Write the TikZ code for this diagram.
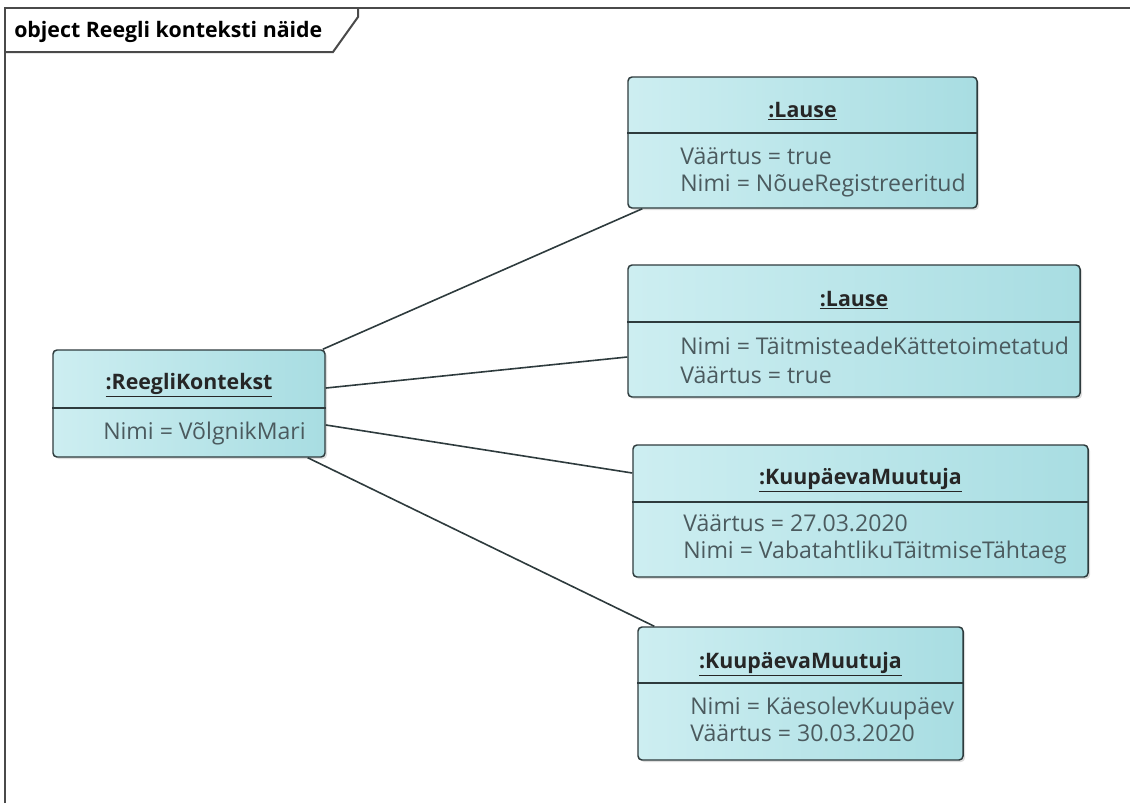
\documentclass[tikz,border=0pt]{standalone}
\usepackage{fontspec}
\setmainfont{Open Sans}
\usetikzlibrary{calc}
\usetikzlibrary{shadows}

\definecolor{boxl}{HTML}{CDEEF1}
\definecolor{boxr}{HTML}{A8DDE2}
\definecolor{linec}{HTML}{2E3B3D}
\definecolor{attc}{HTML}{4B5A5E}
\definecolor{framec}{HTML}{4A4A4A}

\tikzset{
 obj/.style={draw=linec, line width=1.1pt, rounded corners=3pt, inner sep=0,
  left color=boxl, right color=boxr,
  drop shadow={shadow xshift=1.5pt, shadow yshift=-1.5pt, fill=black!22, opacity=.6}},
 ttl/.style={font=\fontsize{16}{19}\selectfont\bfseries, text=black!85, inner sep=0, anchor=base},
 att/.style={font=\fontsize{17.3}{20}\selectfont, text=attc, anchor=base west, inner sep=0},
 sep/.style={linec, line width=1.1pt},
 link/.style={linec, line width=1.2pt},
 frame/.style={framec, line width=1.5pt}
}

\begin{document}
\begin{tikzpicture}[x=0.75pt, y=-0.75pt]
\useasboundingbox (0,0) rectangle (1130,803);
% frame
\draw[frame] (5,803) -- (5,8) -- (1130,8);
\draw[frame] (5,52) -- (333,52) -- (358,17) -- (358,8);
\node[ttl, anchor=base west, text=black] (frm) at (14,37) {object Reegli konteksti näide};

% objects
\node[obj, minimum width=204pt, minimum height=80.25pt] (rk) at (189,403.5) {};
\node[obj, minimum width=261.75pt, minimum height=98.25pt] (l1) at (802.5,142.5) {};
\node[obj, minimum width=339pt, minimum height=99pt] (l2) at (854,331) {};
\node[obj, minimum width=341.25pt, minimum height=99pt] (k1) at (860.5,511) {};
\node[obj, minimum width=243.75pt, minimum height=99.75pt] (k2) at (800.5,693.5) {};

% compartments
\draw[sep] (rk.west |- 0,408) -- (rk.east |- 0,408);
\draw[sep] (l1.west |- 0,133) -- (l1.east |- 0,133);
\draw[sep] (l2.west |- 0,322) -- (l2.east |- 0,322);
\draw[sep] (k1.west |- 0,502) -- (k1.east |- 0,502);
\draw[sep] (k2.west |- 0,683) -- (k2.east |- 0,683);

% names
\node[ttl] (rkn) at (rk.north |- 0,389) {\underline{:ReegliKontekst}};
\node[ttl] (l1n) at (l1.north |- 0,117) {\underline{:Lause}};
\node[ttl] (l2n) at (l2.north |- 0,306) {\underline{:Lause}};
\node[ttl] (k1n) at (k1.north |- 0,484) {\underline{:KuupäevaMuutuja}};
\node[ttl] (k2n) at (k2.north |- 0,668) {\underline{:KuupäevaMuutuja}};

% attributes
\node[att] (rka) at (103,439) {Nimi = VõlgnikMari};
\node[att] (l1a) at (680,164) {Väärtus = true};
\node[att] (l1b) at (680,191) {Nimi = NõueRegistreeritud};
\node[att] (l2a) at (680,354) {Nimi = TäitmisteadeKättetoimetatud};
\node[att] (l2b) at (680,383) {Väärtus = true};
\node[att] (k1a) at (683,531) {Väärtus = 27.03.2020};
\node[att] (k1b) at (683,558) {Nimi = VabatahtlikuTäitmiseTähtaeg};
\node[att] (k2a) at (690,714) {Nimi = KäesolevKuupäev};
\node[att] (k2b) at (690,741) {Väärtus = 30.03.2020};

% links
\draw[link] ([xshift=-2.25pt]rk.north east) -- ([xshift=11.25pt]l1.south west);
\draw[link] ([yshift=11.6pt]rk.east) -- ([yshift=-19.5pt]l2.west);
\draw[link] ([yshift=-16.1pt]rk.east) -- ([yshift=28.5pt]k1.west);
\draw[link] ([xshift=-13.5pt]rk.south east) -- ([xshift=12.75pt]k2.north west);
\end{tikzpicture}
\end{document}
